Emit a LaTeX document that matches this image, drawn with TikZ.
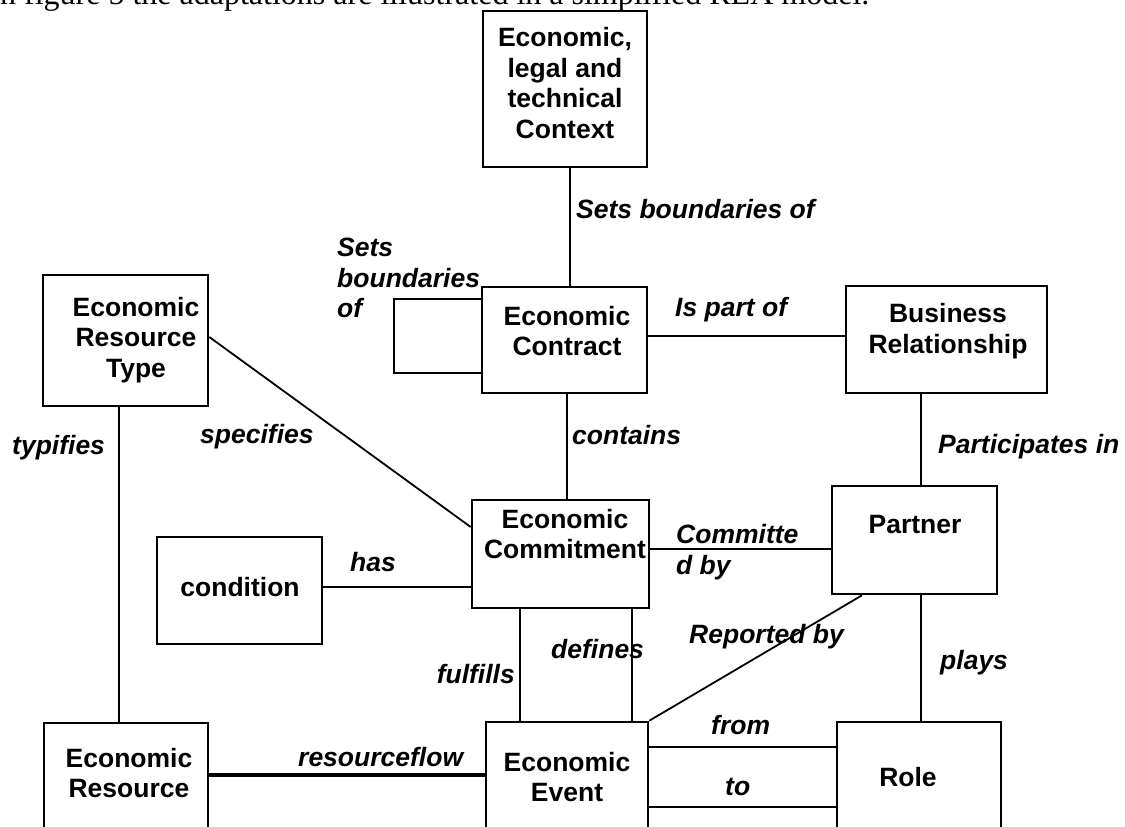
\documentclass[tikz,border=0pt]{standalone}
\usepackage{fontspec}
\setmainfont{Liberation Sans}
\newfontfamily\bodyserif{Liberation Serif}

\begin{document}
\begin{tikzpicture}[x=1pt,y=-1pt,
  box/.style={draw,line width=2.6pt,inner sep=0pt},
  boxtext/.style={font=\bfseries\fontsize{26.5}{30.5}\selectfont,align=center,inner sep=0pt},
  reltext/.style={font=\bfseries\itshape\fontsize{26.5}{30.5}\selectfont,align=left,inner sep=0pt},
  link/.style={line width=1.8pt},
  heavylink/.style={line width=2.4pt},
  flowlink/.style={line width=3.4pt},
]
\useasboundingbox (0,0) rectangle (1125,827);
\clip (0,0) rectangle (1125,827);

% running text above the figure
\node[anchor=base west,inner sep=0pt,font=\bodyserif\fontsize{32}{38}\selectfont] (intro) at (-10.7,5)
  {In figure 5 the adaptations are illustrated in a simplified REA model.};

% entity boxes
\node[box,minimum width=164pt,minimum height=156pt] (ctx)      at (565,89) {};
\node[box,minimum width=165pt,minimum height=106pt] (contract) at (564.5,340) {};
\node[box,minimum width=201pt,minimum height=107pt] (br)       at (946.5,339.5) {};
\node[box,minimum width=165pt,minimum height=131pt] (ert)      at (125.5,340.5) {};
\node[box,minimum width=165pt,minimum height=107pt] (cond)     at (239.5,590.5) {};
\node[box,minimum width=177pt,minimum height=108pt] (commit)   at (560.5,554) {};
\node[box,minimum width=165pt,minimum height=108pt] (partner)  at (914.5,540) {};
\node[box,minimum width=164pt,minimum height=120pt] (res)      at (126,783) {};
\node[box,minimum width=162pt,minimum height=120pt] (event)    at (567,782) {};
\node[box,minimum width=164pt,minimum height=120pt] (role)     at (919,782) {};

% box captions
\node[boxtext] (ctx-t)      at (565,83)  {Economic,\\legal and\\technical\\Context};
\node[boxtext] (contract-t) at (567,331) {Economic\\Contract};
\node[boxtext] (br-t)       at (948,331) {Business\\Relationship};
\node[boxtext] (ert-t)      at (136,340) {Economic\\Resource\\Type};
\node[boxtext] (cond-t)     at (240,587) {condition};
\node[boxtext] (commit-t)   at (565,534) {Economic\\Commitment};
\node[boxtext] (partner-t)  at (915,525) {Partner};
\node[boxtext] (res-t)      at (129,773) {Economic\\Resource};
\node[boxtext] (event-t)    at (567,777) {Economic\\Event};
\node[boxtext] (role-t)     at (908,777) {Role};

% relationships
\draw[link] ([xshift=5pt]ctx.south) -- ([xshift=5pt]ctx.south |- contract.north);
\draw[link] ([xshift=2.5pt]contract.south) -- ([xshift=2.5pt]contract.south |- commit.north);
\draw[link] ([yshift=4pt]contract.east) -- ([yshift=4pt]contract.east -| br.west);
\draw[link] ([yshift=41pt]contract.west) -- ++(-87,0) -- ++(0,74) -- ([yshift=-33pt]contract.west);
\draw[heavylink] ([xshift=-25.5pt]br.south) -- ([xshift=-25.5pt]br.south |- partner.north);
\draw[link] ([yshift=3.5pt]ert.east) -- ([yshift=27pt]commit.west);
\draw[link] ([xshift=-6.5pt]ert.south) -- ([xshift=-6.5pt]ert.south |- res.north);
\draw[link] ([yshift=3.5pt]cond.east) -- ([yshift=3.5pt]cond.east -| commit.west);
\draw[link] ([yshift=5pt]commit.east) -- ([yshift=5pt]commit.east -| partner.west);
\draw[link] ([xshift=-40.5pt]commit.south) -- ([xshift=-40.5pt]commit.south |- event.north);
\draw[link] ([xshift=71.5pt]commit.south) -- ([xshift=71.5pt]commit.south |- event.north);
\draw[link] ([xshift=-52.5pt]partner.south) -- (event.north east);
\draw[heavylink] ([xshift=6.5pt]partner.south) -- ([xshift=6.5pt]partner.south |- role.north);
\draw[flowlink] ([yshift=8pt]res.east) -- ([yshift=8pt]res.east -| event.west);
\draw[heavylink] ([yshift=35pt]event.east) -- ([yshift=35pt]event.east -| role.west);
\draw[heavylink] ([yshift=-25pt]event.east) -- ([yshift=-25pt]event.east -| role.west);

% relationship labels
\node[reltext,anchor=west] (l-sets)    at (576,209) {Sets boundaries of};
\node[reltext,anchor=west] (l-self)    at (337,278) {Sets\\boundaries\\of};
\node[reltext,anchor=west] (l-part)    at (675,310) {Is part of};
\node[reltext,anchor=west] (l-cont)    at (572,435) {contains};
\node[reltext,anchor=west] (l-partic)  at (938,447) {Participates in};
\node[reltext,anchor=west] (l-spec)    at (200,437) {specifies};
\node[reltext,anchor=west] (l-typ)     at (12,448)  {typifies};
\node[reltext,anchor=west] (l-has)     at (350,562) {has};
\node[reltext,anchor=west] (l-commit)  at (676,552) {Committe\\d by};
\node[reltext,anchor=west] (l-def)     at (551,649) {defines};
\node[reltext,anchor=east] (l-ful)     at (515,674) {fulfills};
\node[reltext,anchor=west] (l-rep)     at (689,637) {Reported by};
\node[reltext,anchor=west] (l-plays)   at (940,663) {plays};
\node[reltext,anchor=west] (l-from)    at (711,725) {from};
\node[reltext,anchor=west] (l-to)      at (725,787) {to};
\node[reltext,anchor=west] (l-flow)    at (298,757) {resourceflow};
\end{tikzpicture}
\end{document}
